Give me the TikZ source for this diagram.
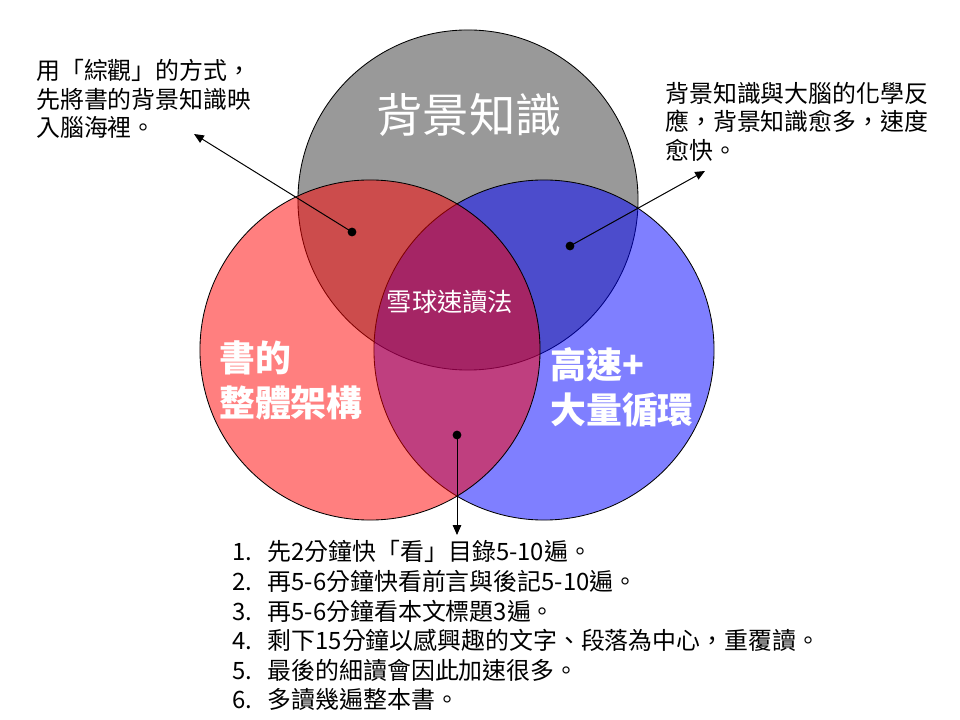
\documentclass[tikz,border=0pt]{standalone}
\usepackage{fontspec}
\newfontfamily\cjkfont{Noto Sans CJK TC}
\usepackage{xcolor}
\definecolor{venngray}{HTML}{999999}
\definecolor{vennred}{HTML}{FF0000}
\definecolor{vennblue}{HTML}{0000FF}
\usetikzlibrary{arrows.meta, positioning}

\begin{document}
\begin{tikzpicture}[
			x=0.025cm, y=-0.025cm,
			venn/.style={
				circle,
				draw=black,
				line width=0.6pt,
				minimum size=8.5cm,
				inner sep=0pt,
			},
			bigtitle/.style={text=white, font=\cjkfont\fontsize{33}{40}\selectfont},
			midtitle/.style={text=white, font=\cjkfont\fontsize{18}{22}\selectfont},
			sidetitle/.style={
				text=white,
				align=left,
				anchor=west,
				inner sep=0pt,
				font=\cjkfont\bfseries\fontsize{25.5}{32}\selectfont,
			},
			note/.style={align=left, inner sep=0pt, anchor=north west, font=\cjkfont\fontsize{17}{20.3}\selectfont},
			dot/.style={circle, fill=black, inner sep=0pt, minimum size=0.22cm},
			pointer/.style={-{Triangle[length=7pt, width=6pt]}, line width=0.7pt},
			]
			\useasboundingbox (0,0) rectangle (960,720);
			
			\node[venn, fill=venngray] (know) at (468,200) {};
			\node[venn, fill=vennblue, fill opacity=0.5] (speed) at (544,350) {};
			\node[venn, fill=vennred, fill opacity=0.5] (frame) at (370,350) {};
			
			\node[bigtitle] (knowtext) at (469,115) {背景知識};
			\node[midtitle] (core) at (450,302) {雪球速讀法};
			\node[sidetitle] (frametext) at (219,380) {書的\\整體架構};
			\node[sidetitle] (speedtext) at (550,387) {高速+\\大量循環};
			
			\node[note] (leftnote) at (36,59) {用「綜觀」的方式，\\先將書的背景知識映\\入腦海裡。};
			\node[note] (rightnote) at (665,82) {背景知識與大腦的化學反\\應，背景知識愈多，速度\\愈快。};
			\node[note] (steps) at (232,540) {%
				\fontsize{17}{21}\selectfont
				\begin{tabular}{@{}l@{\hspace{11pt}}l@{}}
					1. & 先2分鐘快「看」目錄5-10遍。\\
					2. & 再5-6分鐘快看前言與後記5-10遍。\\
					3. & 再5-6分鐘看本文標題3遍。\\
					4. & 剩下15分鐘以感興趣的文字、段落為中心，重覆讀。\\
					5. & 最後的細讀會因此加速很多。\\
					6. & 多讀幾遍整本書。
				\end{tabular}};
			
			\node[dot] (leftdot) at (352,232) {};
			\node[dot] (rightdot) at (570,246) {};
			\node[dot] (lowdot) at (457,435) {};
			\coordinate (lefttip) at (194,134);
			\coordinate (righttip) at (705,171);
			\coordinate (lowtip) at (457,535);
			
			\draw[pointer] (leftdot.center) -- (lefttip);
			\draw[pointer] (rightdot.center) -- (righttip);
			\draw[pointer] (lowdot.center) -- (lowtip);
		\end{tikzpicture}
\end{document}
